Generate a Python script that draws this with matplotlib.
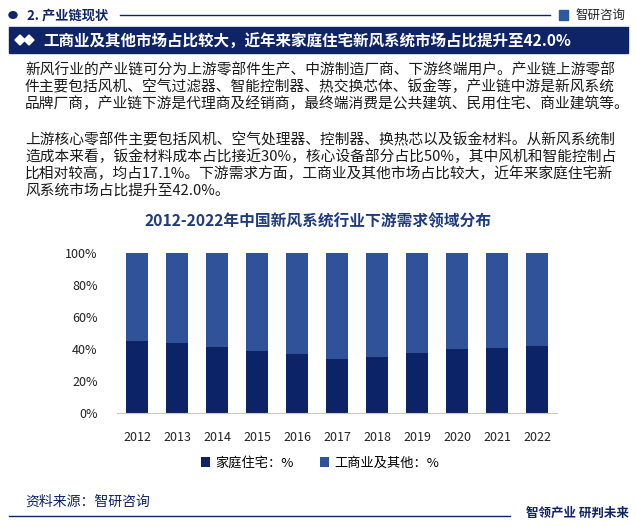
import numpy as np
import matplotlib
matplotlib.use("Agg")
import matplotlib.pyplot as plt
from matplotlib.patches import Rectangle, Polygon
from matplotlib.ticker import FuncFormatter

plt.rcParams["font.family"] = ["Noto Sans CJK SC", "DejaVu Sans"]

# data (share of downstream demand, %)
years = ["2012", "2013", "2014", "2015", "2016", "2017", "2018", "2019", "2020", "2021", "2022"]
home = [45.0, 43.8, 41.2, 38.8, 36.9, 33.8, 35.0, 37.5, 40.0, 40.6, 42.0]
commercial = [100 - v for v in home]
series_names = ["家庭住宅：%", "工商业及其他：%"]

NAVY = "#0f2466"
DARK = "#0c2366"
LIGHT = "#2f5298"
TXT = "#1a1a1a"

W, H = 636, 527
fig = plt.figure(figsize=(W / 100, H / 100), dpi=100)

def fx(px): return px / W
def fy(py): return 1 - py / H

# ---- header row
fig.patches.append(plt.Circle((fx(13), fy(15)), 4 / W, transform=fig.transFigure,
                              color=NAVY, figure=fig))
fig.text(fx(27), fy(15), "2. 产业链现状", fontsize=9.5, fontweight="bold",
         color=NAVY, va="center", ha="left")
fig.add_artist(plt.Line2D([fx(120), fx(550)], [fy(15), fy(15)], color=NAVY, lw=1.0))
fig.patches.append(Rectangle((fx(559), fy(20)), 9 / W, 10 / H, transform=fig.transFigure,
                             color="#2c5aa0", figure=fig))
fig.text(fx(575), fy(15), "智研咨询", fontsize=9, color="#222222", va="center", ha="left")

# ---- title banner
fig.patches.append(Rectangle((fx(9), fy(53)), 619 / W, 26 / H, transform=fig.transFigure,
                             color=NAVY, figure=fig))
for cx in (20, 29):
    fig.patches.append(Polygon([(fx(cx - 5), fy(40)), (fx(cx), fy(35)), (fx(cx + 5), fy(40)),
                                (fx(cx), fy(45))], closed=True, transform=fig.transFigure,
                               color="white", figure=fig))
fig.text(fx(43), fy(40.5), "工商业及其他市场占比较大，近年来家庭住宅新风系统市场占比提升至42.0%",
         fontsize=11.2, fontweight="bold", color="white", va="center", ha="left")

# ---- body paragraphs
lines = [
    (70, "新风行业的产业链可分为上游零部件生产、中游制造厂商、下游终端用户。产业链上游零部"),
    (87, "件主要包括风机、空气过滤器、智能控制器、热交换芯体、钣金等，产业链中游是新风系统"),
    (104, "品牌厂商，产业链下游是代理商及经销商，最终端消费是公共建筑、民用住宅、商业建筑等。"),
    (140, "上游核心零部件主要包括风机、空气处理器、控制器、换热芯以及钣金材料。从新风系统制"),
    (157, "造成本来看，钣金材料成本占比接近30%，核心设备部分占比50%，其中风机和智能控制占"),
    (174, "比相对较高，均占17.1%。下游需求方面，工商业及其他市场占比较大，近年来家庭住宅新"),
    (191, "风系统市场占比提升至42.0%。"),
]
for y, s in lines:
    fig.text(fx(25), fy(y), s, fontsize=10.6, color=TXT, va="center", ha="left")

# ---- chart title
fig.text(0.5, fy(221), "2012-2022年中国新风系统行业下游需求领域分布", fontsize=11.3,
         fontweight="bold", color="#1f3b7c", va="center", ha="center")

# ---- stacked bars
ax = fig.add_axes([fx(117), fy(413), fx(557) - fx(117), fy(253) - fy(413)])
x = np.arange(len(years))
bw = 0.56
ax.bar(x, home, width=bw, color=DARK, label=series_names[0])
ax.bar(x, commercial, width=bw, bottom=home, color=LIGHT, label=series_names[1])
ax.set_xlim(-0.5, len(years) - 0.5)
ax.set_ylim(0, 100)
ax.set_yticks(np.arange(0, 101, 20))
ax.yaxis.set_major_formatter(FuncFormatter(lambda v, _: f"{v:.0f}%"))
ax.set_xticks(x)
ax.set_xticklabels(years)
ax.tick_params(axis="y", length=0, pad=14, labelsize=9, labelcolor="#222222")
ax.tick_params(axis="x", length=0, pad=13, labelsize=9, labelcolor="#222222")
for side in ("top", "right", "left"):
    ax.spines[side].set_visible(False)
ax.spines["bottom"].set_color("#c8c8c8")
ax.patch.set_alpha(0)

handles, labels = ax.get_legend_handles_labels()
fig.legend(handles, labels, loc="center", bbox_to_anchor=(fx(320), fy(463)), ncol=2,
           frameon=False, fontsize=9.5, handlelength=0.7, handleheight=0.7,
           handletextpad=0.4, columnspacing=2.0)

# ---- footer
fig.text(fx(25), fy(502), "资料来源：智研咨询", fontsize=10, color=NAVY, va="center", ha="left")
fig.add_artist(plt.Line2D([fx(9), fx(510)], [fy(516), fy(516)], color=NAVY, lw=1.0))
fig.text(fx(526), fy(513), "智领产业 研判未来", fontsize=9, fontweight="bold",
         color=NAVY, va="center", ha="left")

fig.savefig("out.png", dpi=100)
